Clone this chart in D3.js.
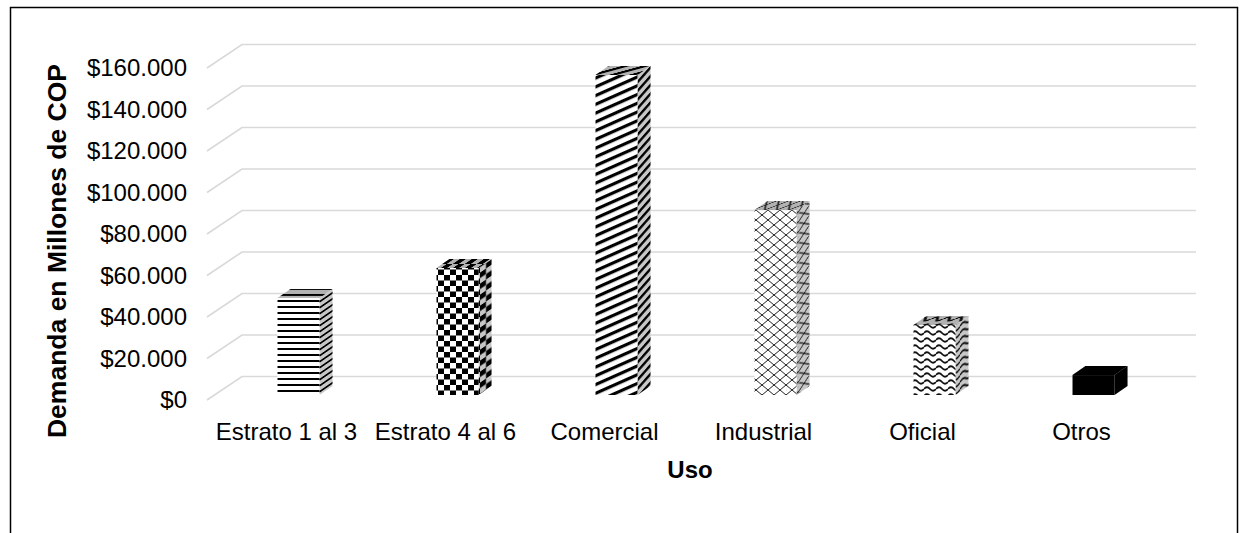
<!DOCTYPE html>
<html>
<head>
<meta charset="utf-8">
<script src="https://cdn.jsdelivr.net/npm/d3@7"></script>
<style>
  html, body { margin: 0; padding: 0; background: #fff; }
  svg { display: block; font-family: "Liberation Sans", Arial, sans-serif; }
</style>
</head>
<body>
<svg id="chart" width="1241" height="533"></svg>
<script>
// Demanda por uso (millones de COP)
const categorias = ["Estrato 1 al 3", "Estrato 4 al 6", "Comercial", "Industrial", "Oficial", "Otros"];
const demanda = [46800, 61200, 154200, 89100, 33700, 9600];
const marcasEje = [0, 20000, 40000, 60000, 80000, 100000, 120000, 140000, 160000];
const patrones = ["lineasH", "tablero", "diagonal", "rombos", "ondas", "solido"];

const svg = d3.select("#chart");

// marco exterior
svg.append("rect")
  .attr("x", 10.5).attr("y", 7.5)
  .attr("width", 1227).attr("height", 540)
  .attr("fill", "none").attr("stroke", "#000").attr("stroke-width", 1.5);

// escalas del plano frontal
const x = d3.scaleBand().domain(categorias).range([207, 1161])
  .paddingInner(0.736).paddingOuter(0.368);
const y = d3.scaleLinear().domain([0, 160000]).range([400, 68]);

// profundidad del piso/pared y de las columnas
const piso = { dx: 35, dy: -23.5 };
const frente = { dx: 12, dy: -5 };
const lado = { dx: 13, dy: -9 };

const loc = d3.formatLocale({ decimal: ",", thousands: ".", grouping: [3], currency: ["$", ""] });
const fmt = loc.format("$,.0f");

// ---- patrones de relleno ----
const defs = svg.append("defs");

function patron(id, w, h, dibujar, transform) {
  const p = defs.append("pattern")
    .attr("id", id).attr("patternUnits", "userSpaceOnUse")
    .attr("width", w).attr("height", h);
  if (transform) p.attr("patternTransform", transform);
  p.append("rect").attr("width", w).attr("height", h).attr("fill", "#fff");
  dibujar(p);
}

const dibujos = {
  lineasH: { w: 6, h: 6, f: p => p.append("rect").attr("y", 0).attr("width", 6).attr("height", 2).attr("fill", "#000") },
  tablero: { w: 12, h: 11, f: p => {
      p.append("rect").attr("x", 0).attr("y", 0).attr("width", 6).attr("height", 5.5).attr("fill", "#000");
      p.append("rect").attr("x", 6).attr("y", 5.5).attr("width", 6).attr("height", 5.5).attr("fill", "#000");
    } },
  diagonal: { w: 20, h: 8, f: p => p.append("rect").attr("y", 0).attr("width", 20).attr("height", 3.2).attr("fill", "#000"), t: "rotate(-24)" },
  rombos: { w: 12, h: 10, f: p => {
      p.append("path").attr("d", "M0,0L12,10M0,10L12,0M-6,5L0,10M6,0L12,-5M6,10L12,15M-6,5L0,0")
        .attr("stroke", "#222").attr("stroke-width", 1).attr("fill", "none");
    } },
  ondas: { w: 12, h: 7, f: p => {
      p.append("path").attr("d", "M0,4 Q3,0.5 6,4 T12,4")
        .attr("stroke", "#111").attr("stroke-width", 1.8).attr("fill", "none");
    } },
  solido: { w: 4, h: 4, f: p => p.append("rect").attr("width", 4).attr("height", 4).attr("fill", "#000") }
};

const skewLado = "skewY(" + (Math.atan2(lado.dy, lado.dx) * 180 / Math.PI) + ")";
const skewTapa = "skewX(" + (-Math.atan2(lado.dx, -lado.dy) * 180 / Math.PI) + ")";

Object.entries(dibujos).forEach(([k, d]) => {
  patron(k, d.w, d.h, d.f, d.t);
  patron(k + "-lado", d.w, d.h, d.f, skewLado + (d.t ? " " + d.t : ""));
  patron(k + "-tapa", d.w, d.h, d.f, skewTapa + (d.t ? " " + d.t : ""));
});

// ---- líneas de cuadrícula (pared posterior y piso) ----
const grid = svg.append("g");
marcasEje.forEach(v => {
  const yf = y(v);
  const [x0, x1] = x.range();
  grid.append("path")
    .attr("d", `M${x0},${yf}L${x0 + piso.dx},${yf + piso.dy}L${x1 + piso.dx},${yf + piso.dy}`)
    .attr("fill", "none").attr("stroke", "#d9d9d9").attr("stroke-width", 1.6);
});

// ---- columnas 3D ----
const barras = svg.append("g");
categorias.forEach((c, i) => {
  const v = demanda[i];
  const xl = x(c) + frente.dx;
  const xr = xl + x.bandwidth();
  const yt = y(v) + frente.dy;
  const yb = y(0) + frente.dy;
  const g = barras.append("g");
  const pid = patrones[i];

  // cara lateral
  const caraLado = `M${xr},${yt}L${xr + lado.dx},${yt + lado.dy}L${xr + lado.dx},${yb + lado.dy}L${xr},${yb}Z`;
  g.append("path").attr("d", caraLado).attr("fill", `url(#${pid}-lado)`);
  g.append("path").attr("d", caraLado).attr("fill", "#000").attr("fill-opacity", 0.22);

  // tapa
  const tapa = `M${xl},${yt}L${xl + lado.dx},${yt + lado.dy}L${xr + lado.dx},${yt + lado.dy}L${xr},${yt}Z`;
  g.append("path").attr("d", tapa).attr("fill", `url(#${pid}-tapa)`);
  g.append("path").attr("d", tapa).attr("fill", "#000").attr("fill-opacity", 0.3);

  // cara frontal
  g.append("rect")
    .attr("x", xl).attr("y", yt)
    .attr("width", x.bandwidth()).attr("height", yb - yt)
    .attr("fill", `url(#${pid})`);
});

// ---- ejes ----
const ejeY = svg.append("g")
  .attr("transform", "translate(207,0)")
  .call(d3.axisLeft(y).tickValues(marcasEje).tickFormat(fmt).tickSize(0).tickPadding(20));
ejeY.select(".domain").remove();
ejeY.selectAll("text")
  .attr("font-family", "Liberation Sans, Arial, sans-serif")
  .attr("font-size", 24).attr("fill", "#000");

const ejeX = svg.append("g")
  .attr("transform", "translate(0,423)")
  .call(d3.axisBottom(x).tickSize(0).tickPadding(0));
ejeX.select(".domain").remove();
ejeX.selectAll("text")
  .attr("font-family", "Liberation Sans, Arial, sans-serif")
  .attr("font-size", 24).attr("fill", "#000");

// ---- títulos de ejes ----
svg.append("text")
  .attr("transform", "translate(66,251) rotate(-90)")
  .attr("text-anchor", "middle")
  .attr("font-size", 26.5).attr("font-weight", "bold")
  .text("Demanda en Millones de COP");

svg.append("text")
  .attr("x", 690).attr("y", 478)
  .attr("text-anchor", "middle")
  .attr("font-size", 24).attr("font-weight", "bold")
  .text("Uso");
</script>
</body>
</html>
